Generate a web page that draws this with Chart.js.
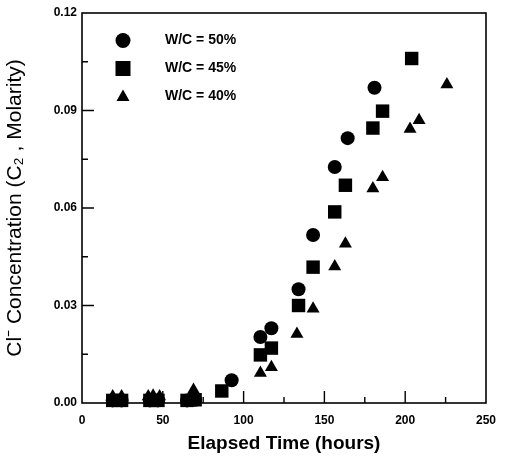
<!DOCTYPE html>
<html>
<head>
<meta charset="utf-8">
<script src="https://cdn.jsdelivr.net/npm/chart.js@4"></script>
<style>
  html, body { margin: 0; padding: 0; background: #fff; }
  #wrap { width: 512px; height: 459px; }
</style>
</head>
<body>
<div id="wrap"><canvas id="myChart" width="512" height="459"></canvas></div>
<script>
// elapsed time (hours) and Cl- concentration (molarity) per mix
var wc50_x = [19, 24.5, 42, 47, 65, 70, 92.6, 110.4, 117.2, 134, 143, 156.4, 164.4, 181];
var wc50_y = [0.0008, 0.0008, 0.0008, 0.0008, 0.0008, 0.001, 0.007, 0.0203, 0.023, 0.035, 0.0517, 0.0726, 0.0815, 0.097];

var wc45_x = [19, 24.5, 42, 47, 65, 70, 86.5, 110.4, 117.2, 134, 143, 156.4, 163, 180, 186, 204];
var wc45_y = [0.0008, 0.0008, 0.0008, 0.0008, 0.0008, 0.001, 0.0037, 0.0148, 0.0169, 0.030, 0.0418, 0.0588, 0.067, 0.0846, 0.0898, 0.106];

var wc40_x = [19, 24.5, 41, 44, 48, 69, 110.4, 117.2, 133, 143, 156.4, 163, 180, 186, 203, 208.6, 225.8];
var wc40_y = [0.002, 0.002, 0.002, 0.0022, 0.002, 0.004, 0.0092, 0.011, 0.0212, 0.029, 0.042, 0.049, 0.066, 0.0695, 0.0843, 0.087, 0.098];

var seriesLabels = ['W/C = 50%', 'W/C = 45%', 'W/C = 40%'];
var xTicks = [0, 50, 100, 150, 200, 250];
var yTicks = [0, 0.03, 0.06, 0.09, 0.12];

function pts(xs, ys) {
    var out = [];
    for (let i = 0; i < xs.length; i++) out.push({x: xs[i], y: ys[i]});
    return out;
}

// frame + inward tick marks + legend inside the plot
const framePlugin = {
    id: 'frame',
    beforeDatasetsDraw(chart) {
        const c = chart.ctx, a = chart.chartArea;
        const xs = chart.scales.x, ys = chart.scales.y;
        c.save();
        c.strokeStyle = '#000';
        c.lineWidth = 1.6;
        c.strokeRect(a.left, a.top, a.right - a.left, a.bottom - a.top);
        c.lineWidth = 1.4;
        c.beginPath();
        for (let v = 25; v < 250; v += 25) {
            const px = xs.getPixelForValue(v);
            const len = (v % 50 === 0) ? 12 : 6;
            c.moveTo(px, a.bottom); c.lineTo(px, a.bottom - len);
        }
        for (let v = 0.015; v < 0.119; v += 0.015) {
            const py = ys.getPixelForValue(v);
            const major = Math.abs((v / 0.03) - Math.round(v / 0.03)) < 0.01;
            c.moveTo(a.left, py); c.lineTo(a.left + (major ? 12 : 6), py);
        }
        c.stroke();

        // legend
        const rows = [40.5, 68.5, 96];
        c.fillStyle = '#000';
        c.font = 'bold 14px "Liberation Sans", Arial, sans-serif';
        c.textBaseline = 'middle';
        chart.data.datasets.forEach(function (ds, i) {
            const mx = 123, my = rows[i];
            c.beginPath();
            if (ds.pointStyle === 'circle') {
                c.arc(mx, my, 7.5, 0, Math.PI * 2);
            } else if (ds.pointStyle === 'rect') {
                c.rect(mx - 7.5, my - 7.5, 15, 15);
            } else {
                c.moveTo(mx, my - 6.5); c.lineTo(mx + 6.5, my + 5); c.lineTo(mx - 6.5, my + 5); c.closePath();
            }
            c.fill();
            c.fillText(ds.label, 165, my);
        });
        c.restore();
    }
};

const tickFont = { family: '"Liberation Sans", Arial, sans-serif', size: 12, weight: 'bold' };

const myChart = new Chart(document.getElementById('myChart'), {
    type: 'scatter',
    data: {
        datasets: [{
            label: seriesLabels[0],
            data: pts(wc50_x, wc50_y),
            pointStyle: 'circle',
            radius: 7,
            backgroundColor: '#000',
            borderColor: '#000',
            borderWidth: 0,
            clip: false
        },
        {
            label: seriesLabels[1],
            data: pts(wc45_x, wc45_y),
            pointStyle: 'rect',
            radius: 9.5,
            backgroundColor: '#000',
            borderColor: '#000',
            borderWidth: 0,
            clip: false
        },
        {
            label: seriesLabels[2],
            data: pts(wc40_x, wc40_y),
            pointStyle: 'triangle',
            radius: 7.5,
            backgroundColor: '#000',
            borderColor: '#000',
            borderWidth: 0,
            clip: false
        }]
    },
    options: {
        responsive: false,
        animation: false,
        layout: { padding: { top: 13, right: 26, left: 0, bottom: 0 } },
        plugins: {
            legend: { display: false },
            tooltip: { enabled: false }
        },
        scales: {
            x: {
                type: 'linear',
                min: 0,
                max: 250,
                afterBuildTicks: function (s) { s.ticks = xTicks.map(v => ({value: v})); },
                afterFit: function (s) { s.height = 56; },
                grid: { display: false, drawTicks: false },
                border: { display: false },
                ticks: { color: '#000', font: tickFont, padding: 10 },
                title: {
                    display: true,
                    text: 'Elapsed Time (hours)',
                    color: '#000',
                    font: { family: '"Liberation Sans", Arial, sans-serif', size: 19, weight: 'bold' },
                    padding: { top: 1 }
                }
            },
            y: {
                type: 'linear',
                min: 0,
                max: 0.12,
                afterBuildTicks: function (s) { s.ticks = yTicks.map(v => ({value: v})); },
                afterFit: function (s) { s.width = 82; },
                grid: { display: false, drawTicks: false },
                border: { display: false },
                ticks: {
                    color: '#000',
                    font: tickFont,
                    padding: 5,
                    callback: function (v) { return Number(v).toFixed(2); }
                },
                title: {
                    display: true,
                    text: 'Cl\u207B Concentration (C\u2082 , Molarity)',
                    color: '#000',
                    font: { family: '"Liberation Sans", Arial, sans-serif', size: 21 },
                    padding: { top: 3, bottom: 2 }
                }
            }
        }
    },
    plugins: [framePlugin]
});
</script>
</body>
</html>
